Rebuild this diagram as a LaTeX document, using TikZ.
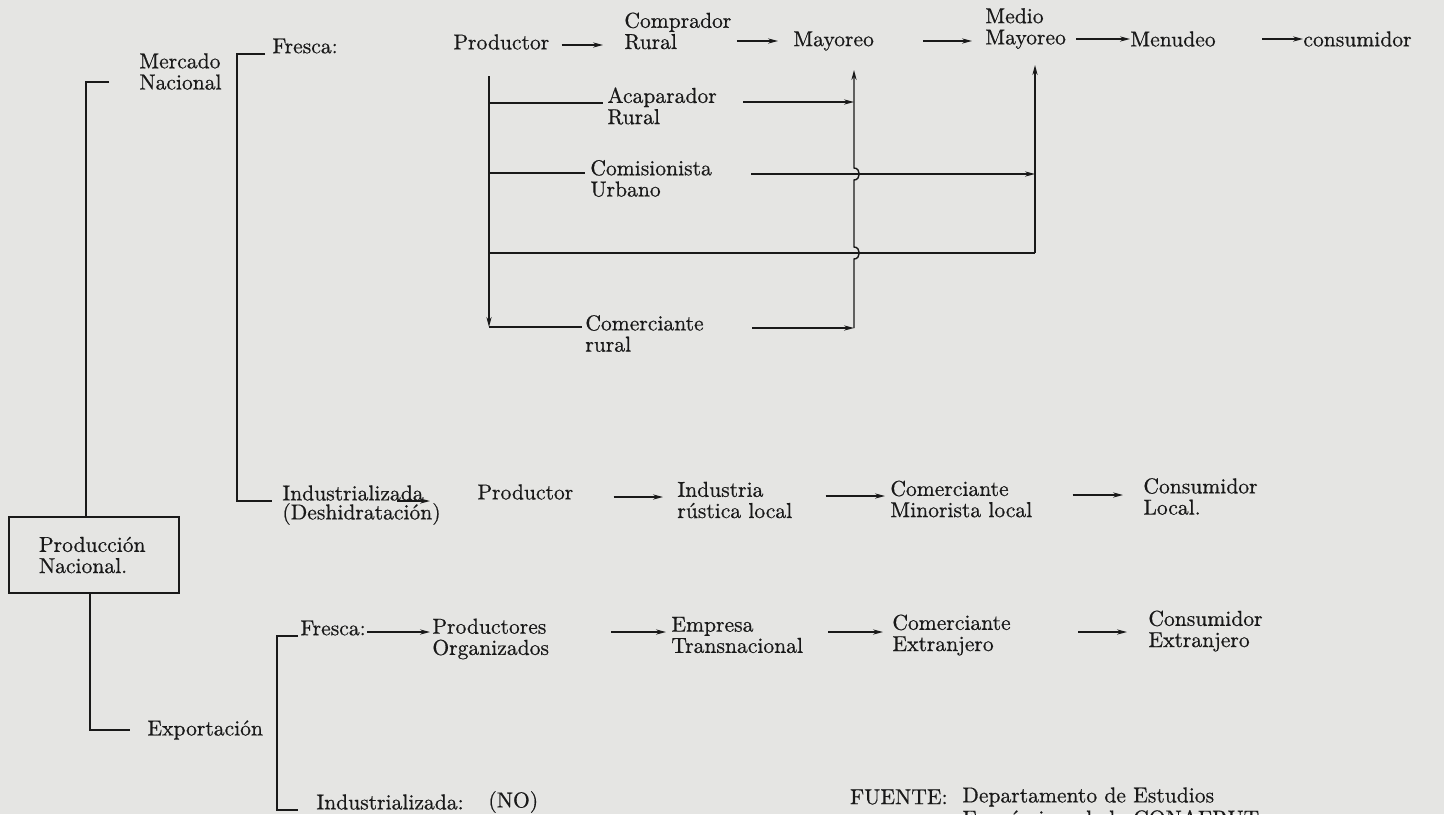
\documentclass[tikz,border=0pt]{standalone}
\usepackage{fontspec}
\setmainfont{Latin Modern Roman}[FakeBold=0.6]
\usetikzlibrary{arrows.meta}
\definecolor{papel}{RGB}{229,229,227}
\definecolor{tinta}{RGB}{25,25,25}
\begin{document}
\begin{tikzpicture}[x=0.5pt,y=-0.5pt,
	every node/.style={anchor=west,inner sep=0pt,align=left,text=tinta,
		font=\fontsize{10.8}{10.6}\selectfont},
	linea/.style={draw=tinta,line width=0.7pt},
	flecha/.style={linea,-{Stealth[length=5pt,width=2.6pt]}}]
\useasboundingbox (0,0) rectangle (1444,814);
\clip (0,0) rectangle (1444,814);
\fill[papel] (0,0) rectangle (1444,814);

\node[draw=tinta,line width=0.7pt,anchor=center,minimum width=85pt,
	minimum height=38pt,text width=55pt] (prod) at (94,555) {Producción\\Nacional.};
\node (merc) at (139,71.5) {Mercado\\Nacional};
\node (expo) at (147,730) {Exportación};

% mercado nacional, fresca
\node (frescaN) at (272,46) {Fresca:};
\node (prodF) at (453,42) {Productor};
\node (comp) at (624,31) {Comprador\\Rural};
\node (mayo) at (793,41) {Mayoreo};
\node (medio) at (985,28.5) {Medio\\Mayoreo};
\node (menu) at (1130,39) {Menudeo};
\node (cons) at (1303,39) {consumidor};
\node (acap) at (607,106) {Acaparador\\Rural};
\node (comis) at (590,178.5) {Comisionista\\Urbano};
\node (comr) at (585,333.5) {Comerciante\\rural};

% mercado nacional, industrializada
\node (indN) at (282,493) {Industrializada};
\node (desh) at (282,514) {(Deshidratación)};
\node (prodI) at (477,492) {Productor};
\node (indr) at (677,500) {Industria\\rústica local};
\node (cmin) at (890,499) {Comerciante\\Minorista local};
\node (clocal) at (1143,496.5) {Consumidor\\Local.};

% exportacion
\node (frescaE) at (300,628) {Fresca:};
\node (porg) at (432,639) {Productores\\Organizados};
\node (empr) at (671,635) {Empresa\\Transnacional};
\node (cext) at (892,635) {Comerciante\\Extranjero};
\node (cconsE) at (1148,631) {Consumidor\\Extranjero};
\node (indE) at (316,802) {Industrializada:};
\node (no) at (488,802) {(NO)};

\node[anchor=east] (fuente) at (948,797) {FUENTE:};
\node (depto) at (962,797) {Departamento de Estudios};
\node (econ) at (962,818) {Económicos de la CONAFRUT};

% llaves
\draw[linea] (109,82) -| ([xshift=-4pt]prod.north);
\draw[linea] ([xshift=-2pt]prod.south) |- ([xshift=-8.5pt]expo.west);
\draw[linea] ([xshift=-3.5pt]frescaN.south west) -| (237,300) |- ([xshift=-5pt]indN.south west);
\draw[linea] ([xshift=-1pt]frescaE.south west) -| (277,700) |- ([xshift=-9pt]indE.south west);

% cadena fresca
\draw[flecha,shorten <=6pt,shorten >=10.5pt] ([yshift=-1.5pt]prodF.east) -- ([yshift=-1.5pt]prodF.east -| comp.west);
\draw[flecha,shorten <=2.5pt,shorten >=7.5pt] (comp.east |- mayo.west) -- (mayo.west);
\draw[flecha,shorten <=24.5pt,shorten >=6.5pt] (mayo.east) -- (mayo.east -| medio.west);
\draw[flecha,shorten <=5pt] (medio.east |- menu.west) -- (menu.west);
\draw[flecha,shorten <=23pt] (menu.east) -- (menu.east -| cons.west);

\draw[flecha] (489,76) -- (489,327);
\draw[linea,shorten >=2pt] (489,103) -- (acap.west |- 0,103);
\draw[linea,shorten >=2.5pt] (489,173) -- (comis.west |- 0,173);
\draw[linea] (489,253) -- (1035,253);
\draw[linea,shorten >=1.5pt] (489,327) -- (comr.west |- 0,327);
\draw[flecha,shorten <=13pt] (acap.east |- 0,102) -- (854,102);
\draw[flecha,shorten <=19.5pt] (comis.east |- 0,174) -- (1035,174);
\draw[flecha,shorten <=24pt] (comr.east |- 0,328) -- (854,328);
\draw[flecha] (854,328) -- (854,259) .. controls (861,259) and (861,247) .. (854,247)
	-- (854,180) .. controls (861,180) and (861,168) .. (854,168) -- (854,70);
\draw[flecha] (1035,253) -- (1035,65);

% cadena industrializada
\draw[flecha,shorten >=10pt] ([xshift=-13.5pt]indN.south east) -- ([xshift=-13.5pt]indN.south east -| prodI.west);
\draw[flecha,shorten <=20pt,shorten >=7pt] ([yshift=-2.5pt]prodI.east) -- ([yshift=-2.5pt]prodI.east -| indr.west);
\draw[flecha,shorten <=16.5pt,shorten >=2.5pt] ([yshift=2pt]indr.east) -- ([yshift=2pt]indr.east -| cmin.west);
\draw[flecha,shorten <=20pt,shorten >=10pt] ([yshift=2pt]cmin.east) -- ([yshift=2pt]cmin.east -| clocal.west);

% cadena exportacion
\draw[flecha,shorten <=0.5pt,shorten >=1pt] ([yshift=-2pt]frescaE.east) -- ([yshift=-2pt]frescaE.east -| porg.west);
\draw[flecha,shorten <=31pt,shorten >=2.5pt] ([yshift=3.5pt]porg.east) -- ([yshift=3.5pt]porg.east -| empr.west);
\draw[flecha,shorten <=12.5pt,shorten >=4.5pt] ([yshift=1.5pt]empr.east) -- ([yshift=1.5pt]empr.east -| cext.west);
\draw[flecha,shorten <=33.5pt,shorten >=10.5pt] ([yshift=1.5pt]cext.east) -- ([yshift=1.5pt]cext.east -| cconsE.west);
\end{tikzpicture}
\end{document}
